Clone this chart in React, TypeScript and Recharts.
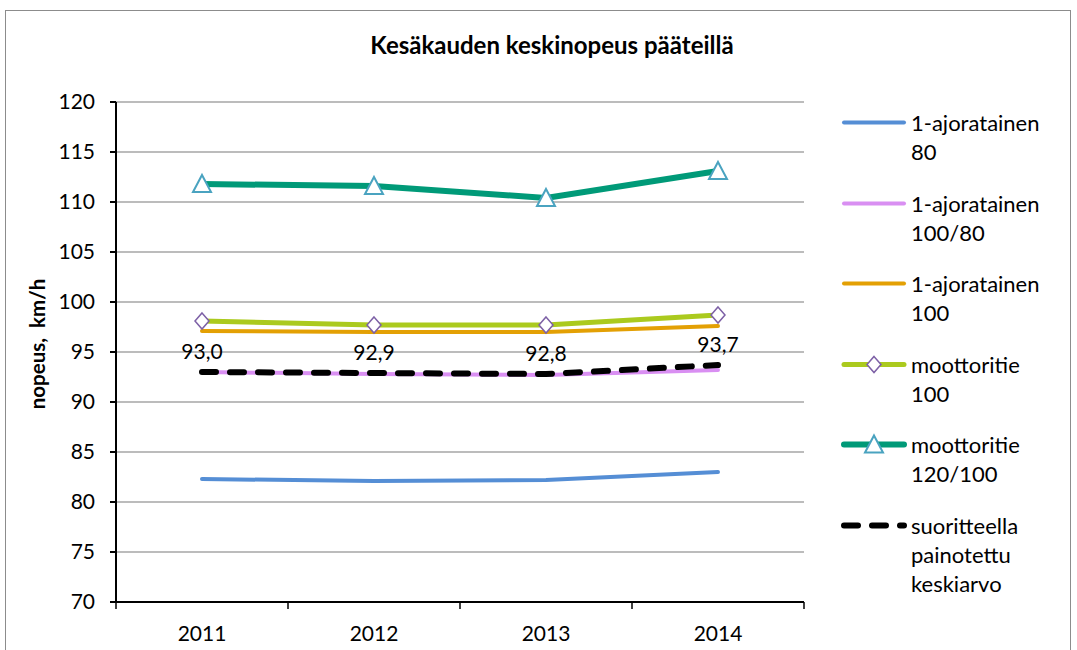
import { LineChart, Line, XAxis, YAxis, CartesianGrid, LabelList } from 'recharts'

const YEARS = ['2011', '2012', '2013', '2014']
const AJO_80 = [82.3, 82.1, 82.2, 83.0]
const AJO_100_80 = [93.0, 92.8, 92.7, 93.2]
const AJO_100 = [97.1, 97.0, 97.0, 97.6]
const MOOTTORI_100 = [98.1, 97.7, 97.7, 98.7]
const MOOTTORI_120_100 = [111.8, 111.6, 110.4, 113.1]
const KESKIARVO = [93.0, 92.9, 92.8, 93.7]
const Y_TICKS = [70, 75, 80, 85, 90, 95, 100, 105, 110, 115, 120]

const FONT = "Lato, 'Liberation Sans', sans-serif"
const HALF_BAND = 86

type Marker = 'none' | 'diamond' | 'triangle'

interface SeriesDef {
  key: string
  label: string[]
  values: number[]
  color: string
  width: number
  marker: Marker
  dash?: string
}

const SERIES: SeriesDef[] = [
  { key: 'a80', label: ['1-ajoratainen', '80'], values: AJO_80, color: '#558ed5', width: 4, marker: 'none' },
  { key: 'a100_80', label: ['1-ajoratainen', '100/80'], values: AJO_100_80, color: '#d98ff2', width: 4, marker: 'none' },
  { key: 'a100', label: ['1-ajoratainen', '100'], values: AJO_100, color: '#e3a004', width: 4, marker: 'none' },
  { key: 'm100', label: ['moottoritie', '100'], values: MOOTTORI_100, color: '#abca1e', width: 5, marker: 'diamond' },
  { key: 'm120', label: ['moottoritie', '120/100'], values: MOOTTORI_120_100, color: '#009a78', width: 6, marker: 'triangle' },
  { key: 'avg', label: ['suoritteella', 'painotettu', 'keskiarvo'], values: KESKIARVO, color: '#000000', width: 6, marker: 'none', dash: '14 14' },
]

const data = YEARS.map((year, i) => {
  const row: Record<string, string | number> = { year }
  for (const s of SERIES) row[s.key] = s.values[i]
  return row
})

function MarkerShape({ type, cx, cy }: { type: Marker; cx: number; cy: number }) {
  if (type === 'diamond') {
    return (
      <polygon
        points={`${cx},${cy - 8} ${cx + 7},${cy} ${cx},${cy + 8} ${cx - 7},${cy}`}
        fill="#fff"
        stroke="#7d60a6"
        strokeWidth={1.5}
      />
    )
  }
  if (type === 'triangle') {
    return (
      <polygon
        points={`${cx},${cy - 9} ${cx + 9},${cy + 8} ${cx - 9},${cy + 8}`}
        fill="#fff"
        stroke="#4aa3c0"
        strokeWidth={2}
      />
    )
  }
  return null
}

function makeDot(type: Marker) {
  return (props: any) => {
    const { cx, cy, index } = props
    if (cx == null || cy == null) return <g key={index} />
    return (
      <g key={index}>
        <MarkerShape type={type} cx={cx} cy={cy} />
      </g>
    )
  }
}

function YearTick(props: any) {
  const { x, y, payload, index } = props
  return (
    <g>
      <line x1={x - HALF_BAND} y1={y} x2={x - HALF_BAND} y2={y + 7} stroke="#000" strokeWidth={1.5} />
      {index === YEARS.length - 1 && (
        <line x1={x + HALF_BAND} y1={y} x2={x + HALF_BAND} y2={y + 7} stroke="#000" strokeWidth={1.5} />
      )}
      <text x={x} y={y + 32} dy="0.35em" textAnchor="middle" fill="#000" fontSize={21} fontFamily={FONT}>
        {payload.value}
      </text>
    </g>
  )
}

function LegendBox() {
  return (
    <div style={{ position: 'absolute', left: 841, top: 108, fontFamily: FONT, fontSize: 22, color: '#000' }}>
      {SERIES.map((s) => (
        <div key={s.key} style={{ height: 80.6, display: 'flex', alignItems: 'flex-start' }}>
          <svg width={66} height={29} style={{ flexShrink: 0 }}>
            <line
              x1={3}
              y1={14.5}
              x2={63}
              y2={14.5}
              stroke={s.color}
              strokeWidth={s.width}
              strokeLinecap="round"
              strokeDasharray={s.dash}
            />
            <MarkerShape type={s.marker} cx={33} cy={14.5} />
          </svg>
          <div style={{ marginLeft: 4, lineHeight: '29px', whiteSpace: 'nowrap' }}>
            {s.label.map((t) => (
              <div key={t}>{t}</div>
            ))}
          </div>
        </div>
      ))}
    </div>
  )
}

export default function App() {
  return (
    <div style={{ position: 'absolute', left: 0, top: 0, width: 1077, height: 650, overflow: 'hidden', background: '#fff' }}>
      <div
        style={{
          position: 'absolute',
          left: 5,
          top: 10,
          width: 1064,
          height: 700,
          border: '1.5px solid #8c8c8c',
        }}
      />
      <div
        style={{
          position: 'absolute',
          left: 552,
          top: 44,
          transform: 'translate(-50%, -50%)',
          fontFamily: FONT,
          fontWeight: 700,
          fontSize: 24,
          whiteSpace: 'nowrap',
          color: '#000',
        }}
      >
        Kesäkauden keskinopeus pääteillä
      </div>
      <div
        style={{
          position: 'absolute',
          left: 37,
          top: 344,
          transform: 'translate(-50%, -50%) rotate(-90deg)',
          fontFamily: FONT,
          fontWeight: 700,
          fontSize: 20.5,
          whiteSpace: 'pre',
          color: '#000',
        }}
      >
        {'nopeus,  km/h'}
      </div>
      <div style={{ position: 'absolute', left: 0, top: 0 }}>
        <LineChart width={1077} height={650} data={data} margin={{ top: 102, right: 273, bottom: 8, left: 56 }}>
          <CartesianGrid vertical={false} stroke="#a6a6a6" strokeWidth={1.5} />
          <XAxis
            dataKey="year"
            height={40}
            interval={0}
            padding={{ left: HALF_BAND, right: HALF_BAND }}
            tickSize={0}
            tickMargin={0}
            tickLine={false}
            axisLine={{ stroke: '#000', strokeWidth: 2 }}
            tick={<YearTick />}
          />
          <YAxis
            domain={[70, 120]}
            ticks={Y_TICKS}
            interval={0}
            width={60}
            tickSize={6}
            tickMargin={15}
            axisLine={{ stroke: '#000', strokeWidth: 2 }}
            tickLine={{ stroke: '#000', strokeWidth: 2 }}
            tick={{ fill: '#000', fontSize: 21, fontFamily: FONT }}
          />
          {SERIES.map((s) => (
            <Line
              key={s.key}
              type="linear"
              dataKey={s.key}
              name={s.label.join(' ')}
              stroke={s.color}
              strokeWidth={s.width}
              strokeDasharray={s.dash}
              strokeLinecap="round"
              dot={s.marker === 'none' ? false : makeDot(s.marker)}
              activeDot={false}
              isAnimationActive={false}
            >
              {s.key === 'avg' && (
                <LabelList
                  dataKey={s.key}
                  position="top"
                  offset={13}
                  fill="#000"
                  fontSize={21}
                  fontFamily={FONT}
                  formatter={(v: any) => Number(v).toFixed(1).replace('.', ',')}
                />
              )}
            </Line>
          ))}
        </LineChart>
      </div>
      <LegendBox />
    </div>
  )
}
